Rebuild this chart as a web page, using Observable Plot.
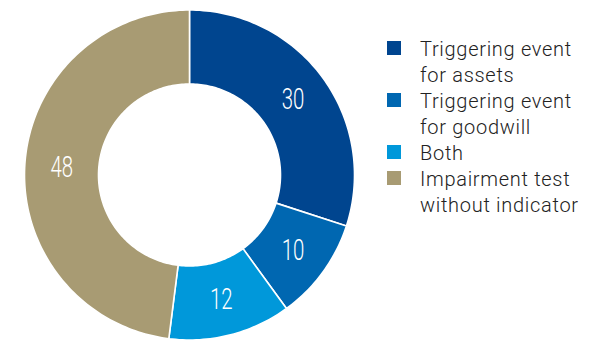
<!DOCTYPE html>
<html><head><meta charset="utf-8">
<script src="https://cdn.jsdelivr.net/npm/d3@7"></script>
<script src="https://cdn.jsdelivr.net/npm/@observablehq/plot@0.6"></script>
<style>
body{margin:0;background:#fff;}
#wrap{position:relative;width:599px;height:340px;overflow:hidden;}
#wrap svg{position:absolute;left:0;top:0;}
#legend{position:absolute;left:387px;top:36px;font-family:Roboto,"Liberation Sans",sans-serif;font-weight:300;font-size:20px;letter-spacing:0.7px;line-height:26px;color:#222;}
.item{display:flex;align-items:flex-start;}
.sw{width:14px;height:14px;margin-top:5px;margin-right:19px;flex:none;}
.lab{width:175px;}
</style></head><body><div id="wrap"></div>
<script>
const categories = ["Triggering event for assets", "Triggering event for goodwill", "Both", "Impairment test without indicator"];
const values = [30, 10, 12, 48];
const valueLabels = ["30", "10", "12", "48"];
const colors = ["#00458F", "#0067B1", "#0098DA", "#A89B73"];

// layout constants
const W = 599, H = 340, CX = 189, CY = 174.5, R = 165, RIN = 91;
const inner = RIN / R, labelR = (1 + inner) / 2;
const total = d3.sum(values);

// build slice polygons from the values
const pts = [];
const labs = [];
let cum = 0;
values.forEach((v, i) => {
  const a0 = 2 * Math.PI * cum / total, a1 = 2 * Math.PI * (cum + v) / total;
  const N = Math.max(8, Math.ceil(v * 3));
  const poly = [];
  for (let k = 0; k <= N; k++) { const a = a0 + (a1 - a0) * k / N; poly.push([Math.sin(a), Math.cos(a)]); }
  for (let k = N; k >= 0; k--) { const a = a0 + (a1 - a0) * k / N; poly.push([inner * Math.sin(a), inner * Math.cos(a)]); }
  poly.push(poly[0]);
  poly.forEach(p => pts.push({cat: categories[i], x: p[0], y: p[1]}));
  const m = (a0 + a1) / 2;
  labs.push({cat: categories[i], text: valueLabels[i], x: labelR * Math.sin(m), y: labelR * Math.cos(m)});
  cum += v;
});

const chart = Plot.plot({
  width: W, height: H,
  marginLeft: 0, marginRight: 0, marginTop: 0, marginBottom: 0,
  x: {domain: [-CX / R, (W - CX) / R], range: [0, W], axis: null},
  y: {domain: [-(H - CY) / R, CY / R], range: [H, 0], axis: null},
  color: {domain: categories, range: colors},
  style: {background: "white"},
  marks: [
    Plot.line(pts, {x: "x", y: "y", z: "cat", fill: "cat", stroke: "white", strokeWidth: 1.6, curve: "linear"}),
    Plot.text(labs, {x: "x", y: "y", text: "text", fill: "white", fontSize: 30, fontWeight: 300, fontFamily: "Roboto, sans-serif"})
  ]
});
document.getElementById("wrap").appendChild(chart);
// condense the slice labels horizontally about their own centres
d3.select(chart).selectAll("text").each(function() {
  const bb = this.getBBox();
  const cx = bb.x + bb.width / 2;
  const t = this.getAttribute("transform") || "";
  this.setAttribute("transform", `${t} translate(${cx},0) scale(0.68,1) translate(${-cx},0)`);
});

// legend
const leg = d3.select("#wrap").append("div").attr("id", "legend");
categories.forEach((c, i) => {
  const it = leg.append("div").attr("class", "item");
  it.append("div").attr("class", "sw").style("background", colors[i]);
  it.append("div").attr("class", "lab").text(c);
});
</script></body></html>
